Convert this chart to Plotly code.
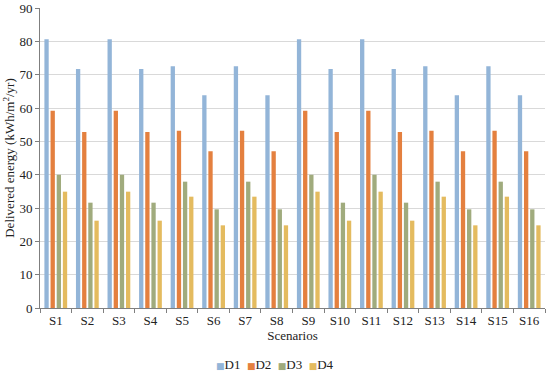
import plotly.graph_objects as go

scenarios = [f"S{i}" for i in range(1, 17)]
d1 = [80.6, 71.7, 80.6, 71.7, 72.5, 63.8, 72.5, 63.8, 80.6, 71.7, 80.6, 71.7, 72.5, 63.8, 72.5, 63.8]
d2 = [59.2, 52.8, 59.2, 52.8, 53.2, 47.0, 53.2, 47.0, 59.2, 52.8, 59.2, 52.8, 53.2, 47.0, 53.2, 47.0]
d3 = [40.0, 31.6, 40.0, 31.6, 37.9, 29.6, 37.9, 29.6, 40.0, 31.6, 40.0, 31.6, 37.9, 29.6, 37.9, 29.6]
d4 = [34.9, 26.2, 34.9, 26.2, 33.4, 24.8, 33.4, 24.8, 34.9, 26.2, 34.9, 26.2, 33.4, 24.8, 33.4, 24.8]
names = ["D1", "D2", "D3", "D4"]
colors = ["#93b5d8", "#e4803f", "#a0ab7d", "#e4bb5f"]

fig = go.Figure()
for name, vals, col in zip(names, [d1, d2, d3, d4], colors):
    fig.add_trace(go.Bar(x=scenarios, y=vals, name=name, showlegend=False,
                         marker=dict(color=col, line=dict(width=0))))

# compact legend, built from the series names and colours
legend_text = "&nbsp;&nbsp;".join(
    f"<span style='color:{c};font-family:DejaVu Sans;font-size:9px'>■</span>{n}"
    for n, c in zip(names, colors))
fig.add_annotation(text=legend_text, xref="paper", yref="paper", x=0.465, y=-0.187,
                   xanchor="center", yanchor="middle", showarrow=False,
                   font=dict(size=13))

fam = "Liberation Serif"
fig.update_layout(
    width=550, height=374,
    margin=dict(l=40, r=5, t=8, b=66, autoexpand=False),
    paper_bgcolor="white", plot_bgcolor="white",
    font=dict(family=fam, size=13, color="#222222"),
    barmode="group", bargap=0.22, bargroupgap=0.3,
    xaxis=dict(title=dict(text="Scenarios", font=dict(size=13), standoff=4),
               showline=True, linecolor="#7f7f7f", linewidth=1,
               ticks="outside", tickson="boundaries", ticklen=4, tickcolor="#7f7f7f",
               showgrid=False),
    yaxis=dict(title=dict(text="Delivered energy (kWh/m<sup>2</sup>/yr)", font=dict(size=13), standoff=1),
               range=[0, 90], dtick=10, showline=True, linecolor="#7f7f7f", linewidth=1,
               ticks="outside", ticklen=4, tickcolor="#7f7f7f",
               showgrid=True, gridcolor="#d9d9d9", gridwidth=1, zeroline=False),
)
fig.write_html("out.html", config={"displayModeBar": False},
               post_script="document.body.style.margin='0';document.body.style.overflow='hidden';")
